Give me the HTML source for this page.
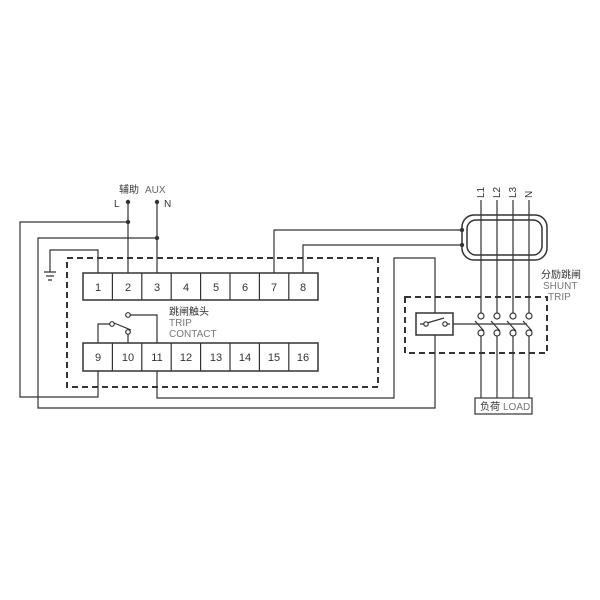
<!DOCTYPE html>
<html><head><meta charset="utf-8"><style>
body{margin:0;background:#fff}
svg{display:block}
text{font-family:"Liberation Sans","Noto Sans CJK SC",sans-serif;}
</style></head><body>
<svg width="600" height="600" viewBox="0 0 600 600" xmlns="http://www.w3.org/2000/svg">
<g fill="none" stroke="#333" stroke-width="1.2">
<!-- dashed boxes -->
<rect x="67" y="258" width="311" height="129" stroke-dasharray="6,4" stroke-width="2"/>
<rect x="405" y="297" width="142" height="56" stroke-dasharray="6,4" stroke-width="2"/>
<!-- terminal rows -->
<rect x="83" y="273" width="235" height="27" stroke-width="1.5"/>
<rect x="83" y="343" width="235" height="28" stroke-width="1.5"/>
<path d="M112.4 273v27M141.8 273v27M171.2 273v27M200.6 273v27M230 273v27M259.4 273v27M288.8 273v27"/>
<path d="M112.4 343v28M141.8 343v28M171.2 343v28M200.6 343v28M230 343v28M259.4 343v28M288.8 343v28"/>
<!-- AUX wires -->
<path d="M128 202V273M157 202V273"/>
<path d="M128 222H20V397H98V371"/>
<path d="M157 238H38V408H435V335"/>
<!-- ground -->
<path d="M98 273V250H50V272M44 272h12M46 276h8M48 280h4"/>
<!-- trip contact -->
<path d="M98 343V324H110M114 323L131 330M128 334V343M130 315H157V343"/>
<circle cx="112" cy="324" r="2.3" fill="#fff"/>
<circle cx="128" cy="332" r="2.3" fill="#fff"/>
<circle cx="128" cy="315" r="2.3" fill="#fff"/>
<!-- 11 loop -->
<path d="M157 371V398H394V258H435V313"/>
<!-- CT wires -->
<path d="M274 273V230H462M303 273V245H462"/>
<rect x="462" y="215" width="85" height="45" rx="12" stroke-width="1.5"/>
<rect x="467" y="220" width="75" height="35" rx="9" stroke-width="1.5"/>
<!-- phase lines -->
<path d="M481 200V313M497 200V313M513 200V313M529 200V313"/>
<path d="M481 336V398M497 336V398M513 336V398M529 336V398"/>
<path d="M475 321L484 331M491 321L500 331M507 321L516 331M523 321L532 331"/>
<!-- shunt switch -->
<rect x="416" y="313" width="37" height="22" stroke-width="1.5"/>
<path d="M420 324H424M427 323L444 318M447 324H450M453 324H527"/>
<circle cx="426" cy="324" r="2.2" fill="#fff"/>
<circle cx="445" cy="324" r="2.2" fill="#fff"/>
<g fill="#fff">
<circle cx="481" cy="316" r="3"/><circle cx="497" cy="316" r="3"/><circle cx="513" cy="316" r="3"/><circle cx="529" cy="316" r="3"/>
<circle cx="481" cy="333" r="3"/><circle cx="497" cy="333" r="3"/><circle cx="513" cy="333" r="3"/><circle cx="529" cy="333" r="3"/>
</g>
<rect x="475" y="398" width="57" height="16" stroke-width="1.2"/>
</g>
<g fill="#333">
<circle cx="128" cy="202" r="2.2"/><circle cx="157" cy="202" r="2.2"/>
<circle cx="128" cy="222" r="2.2"/><circle cx="157" cy="238" r="2.2"/>
<circle cx="462" cy="230" r="2.2"/><circle cx="462" cy="245" r="2.2"/>
</g>
<g font-size="11" fill="#333" text-anchor="middle">
<text x="98" y="291">1</text><text x="128" y="291">2</text><text x="157" y="291">3</text><text x="186" y="291">4</text>
<text x="216" y="291">5</text><text x="245" y="291">6</text><text x="274" y="291">7</text><text x="303" y="291">8</text>
<text x="98" y="361">9</text><text x="128" y="361">10</text><text x="157" y="361">11</text><text x="186" y="361">12</text>
<text x="216" y="361">13</text><text x="245" y="361">14</text><text x="274" y="361">15</text><text x="303" y="361">16</text>
</g>
<g font-size="10" fill="#333">
<text x="119" y="193">辅助</text><text x="145" y="193" fill="#666">AUX</text>
<text x="114" y="207">L</text><text x="164" y="207">N</text>
<text x="169" y="315">跳闸触头</text>
<text x="169" y="326" fill="#777">TRIP</text>
<text x="169" y="337" fill="#777">CONTACT</text>
<text x="541" y="278">分励跳闸</text>
<text x="543" y="289" fill="#777">SHUNT</text>
<text x="548" y="300" fill="#777">TRIP</text>
<text x="480" y="410">负荷</text><text x="503" y="410" fill="#777">LOAD</text>
<text transform="translate(484,198) rotate(-90)">L1</text>
<text transform="translate(500,198) rotate(-90)">L2</text>
<text transform="translate(516,198) rotate(-90)">L3</text>
<text transform="translate(532,198) rotate(-90)">N</text>
</g>
</svg>
</body></html>
